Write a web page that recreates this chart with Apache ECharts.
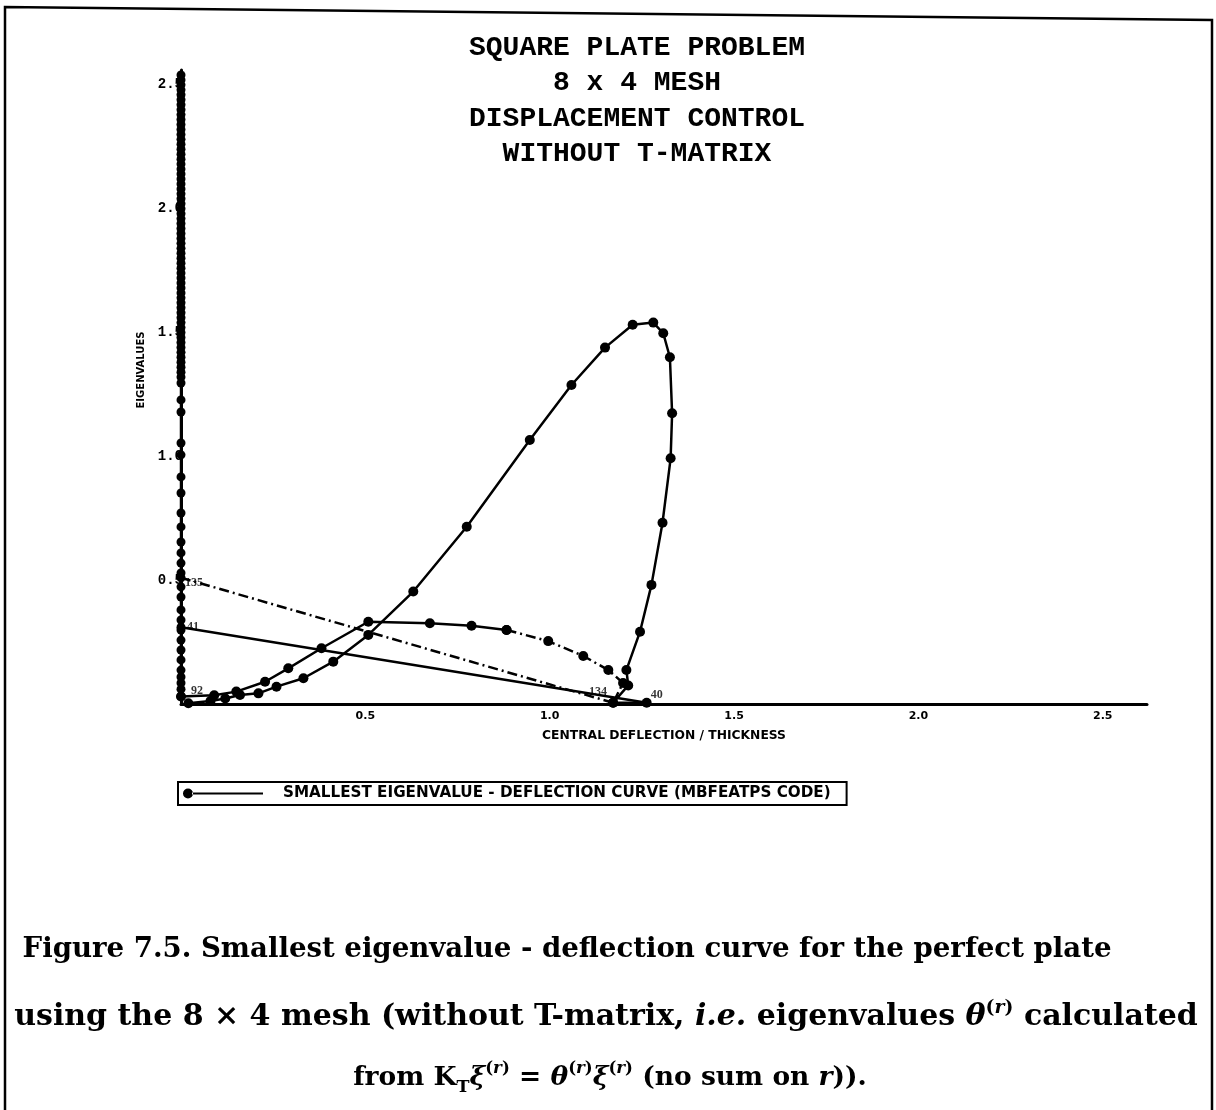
<!DOCTYPE html>
<html><head><meta charset="utf-8">
<script src="https://cdn.jsdelivr.net/npm/echarts@6/dist/echarts.min.js"></script>
<style>html,body{margin:0;padding:0;background:#fff;} #chart{width:1216px;height:1110px;}</style>
</head><body><div id="chart"></div>
<script>
// ---------- texts ----------
const titleLines = ['SQUARE PLATE PROBLEM', '8 x 4 MESH', 'DISPLACEMENT CONTROL', 'WITHOUT T-MATRIX'];
const xAxisName = 'CENTRAL DEFLECTION / THICKNESS';
const yAxisName = 'EIGENVALUES';
const curveName = 'SMALLEST EIGENVALUE - DEFLECTION CURVE (MBFEATPS CODE)';
const xTickStep = 0.5;
const yTickStep = 0.5;

// ---------- data (central deflection / thickness, eigenvalue) ----------
// points 1..40 : the large loop
const loopX = [0.02, 0.08, 0.12, 0.16, 0.21, 0.259, 0.332, 0.413, 0.508, 0.630, 0.775, 0.946, 1.059, 1.150, 1.225, 1.281, 1.308, 1.326, 1.332, 1.328, 1.306, 1.276, 1.245, 1.208, 1.213, 1.172, 1.263];
const loopY = [0.003, 0.012, 0.022, 0.036, 0.043, 0.070, 0.104, 0.171, 0.279, 0.454, 0.716, 1.066, 1.288, 1.439, 1.531, 1.540, 1.497, 1.400, 1.174, 0.992, 0.732, 0.481, 0.292, 0.137, 0.075, 0.005, 0.005];
// jump from point 40 to point 41
const jumpAX = [1.263, 0.0];
const jumpAY = [0.005, 0.31];
// points at zero deflection (41..91 and 135..)
const axisPointsY = [0.03, 0.06, 0.085, 0.109, 0.137, 0.178, 0.218, 0.258, 0.299, 0.31, 0.339, 0.380, 0.432, 0.473, 0.51, 0.529, 0.569, 0.610, 0.654, 0.715, 0.771, 0.852, 0.917, 1.006, 1.054, 1.179, 1.228, 1.296,
  1.32, 1.34, 1.36, 1.38, 1.40, 1.42, 1.44, 1.46, 1.48, 1.50, 1.52, 1.54, 1.56, 1.58, 1.60, 1.62, 1.64, 1.66, 1.68, 1.70, 1.72, 1.74, 1.76, 1.78, 1.80, 1.82, 1.84, 1.86, 1.88, 1.90, 1.92, 1.94, 1.96, 1.98,
  2.00, 2.02, 2.04, 2.06, 2.08, 2.10, 2.12, 2.14, 2.16, 2.18, 2.20, 2.22, 2.24, 2.26, 2.28, 2.30, 2.32, 2.34, 2.36, 2.38, 2.40, 2.42, 2.44, 2.46, 2.48, 2.50, 2.52, 2.54];
// points 92..134 : the low dome
const domeX = [0.0, 0.09, 0.15, 0.228, 0.291, 0.381, 0.508, 0.675, 0.788, 0.883];
const domeY = [0.03, 0.035, 0.05, 0.090, 0.144, 0.225, 0.332, 0.326, 0.316, 0.299];
const domeTailX = [0.883, 0.996, 1.091, 1.159, 1.199, 1.172];
const domeTailY = [0.299, 0.254, 0.194, 0.137, 0.085, 0.005];
// jump from point 134 to point 135
const jumpBX = [1.172, 0.0];
const jumpBY = [0.005, 0.51];
// numbered points
const pointNumbers = ['40', '41', '92', '134', '135'];
const pointNumberX = [1.263, 0.0, 0.0, 1.172, 0.0];
const pointNumberY = [0.005, 0.31, 0.03, 0.005, 0.51];

// ---------- helpers ----------
const zip = (xs, ys) => xs.map((x, i) => [x, ys[i]]);
const onStep = (v, s) => v > 0 && Math.abs(v / s - Math.round(v / s)) < 1e-6;
const labelPlacement = {
  '40': {position: 'right', offset: [0, -8]},
  '41': {position: 'right', offset: [2, 0]},
  '92': {position: 'right', offset: [6, -6]},
  '134': {position: 'left', offset: [-2, -11]},
  '135': {position: 'right', offset: [0, 5]}
};

const chart = echarts.init(document.getElementById('chart'), null, {renderer: 'canvas'});
const black = '#000';
const dashDot = [10, 4, 2, 4];
const markerLine = (name, data, type, showSymbol, size) => ({
  type: 'line', name: name, data: data, showSymbol: showSymbol, symbol: 'circle', symbolSize: size || 10,
  color: black, itemStyle: {color: black}, lineStyle: {color: black, width: 2.5, type: type},
  animation: false, z: 3
});
const capFont = 'DejaVu Serif';
const capRich = (fs) => ({
  b: {fontSize: fs, fontWeight: 'bold', fontFamily: capFont, lineHeight: 36, fill: black},
  i: {fontSize: fs, fontWeight: 'bold', fontStyle: 'italic', fontFamily: capFont, lineHeight: 36, fill: black},
  sup: {fontSize: fs * 0.63, fontWeight: 'bold', fontFamily: capFont, lineHeight: 20, verticalAlign: 'top', fill: black},
  supi: {fontSize: fs * 0.63, fontWeight: 'bold', fontStyle: 'italic', fontFamily: capFont, lineHeight: 20, verticalAlign: 'top', fill: black},
  sub: {fontSize: fs * 0.66, fontWeight: 'bold', fontFamily: capFont, lineHeight: 20, verticalAlign: 'bottom', fill: black}
});

const option = {
  backgroundColor: '#fff',
  animation: false,
  grid: {left: 181, top: 70, right: 69, bottom: 406, containLabel: false},
  xAxis: {
    type: 'value', min: 0, max: 2.62, interval: xTickStep,
    name: xAxisName, nameLocation: 'middle', nameGap: 26,
    nameTextStyle: {fontSize: 12.3, fontWeight: 'bold', fontFamily: 'DejaVu Sans', color: black},
    axisLine: {show: true, lineStyle: {color: black, width: 3}},
    axisTick: {show: false}, splitLine: {show: false},
    axisLabel: {margin: 7, fontSize: 11, fontWeight: 'bold', fontFamily: 'DejaVu Sans', color: black,
      formatter: v => onStep(v, xTickStep) ? v.toFixed(1) : ''}
  },
  yAxis: {
    type: 'value', min: 0, max: 2.56, interval: yTickStep,
    name: yAxisName, nameLocation: 'middle', nameGap: 31, nameRotate: 90,
    nameTextStyle: {fontSize: 10, fontWeight: 'bold', fontFamily: 'DejaVu Sans', color: black, padding: [0, 0, 0, 34]},
    axisLine: {show: true, lineStyle: {color: black, width: 3}},
    axisTick: {show: false}, splitLine: {show: false},
    axisLabel: {margin: -2, fontSize: 14, fontWeight: 'bold', fontFamily: 'Liberation Mono', color: black,
      formatter: v => onStep(v, yTickStep) ? v.toFixed(1) : ''}
  },
  legend: {
    data: [curveName], left: 178, top: 782, orient: 'horizontal',
    icon: 'path://M0,5a5,5 0 1,0 10,0a5,5 0 1,0 -10,0Z M9,4.1H80V5.9H9Z',
    itemWidth: 80, itemHeight: 10,
    borderColor: black, borderWidth: 2, borderRadius: 0, padding: [4, 16, 4, 5],
    selectedMode: false,
    textStyle: {fontSize: 15.2, fontWeight: 'bold', fontFamily: 'DejaVu Sans', color: black, padding: [0, 0, 0, 15]}
  },
  series: [
    markerLine(curveName, zip(loopX, loopY), 'solid', true),
    markerLine(curveName, zip(jumpAX, jumpAY), 'solid', false),
    markerLine(curveName, axisPointsY.map(y => [0, y]), 'solid', true, 9),
    markerLine(curveName, zip(domeX, domeY), 'solid', true),
    markerLine(curveName, zip(domeTailX, domeTailY), dashDot, true),
    markerLine(curveName, zip(jumpBX, jumpBY), dashDot, false),
    {
      type: 'scatter', name: 'point numbers', symbolSize: 0, z: 4, animation: false,
      data: pointNumbers.map((t, i) => ({
        value: [pointNumberX[i], pointNumberY[i]],
        label: Object.assign({show: true, formatter: t, fontSize: 12, fontWeight: 'bold',
          fontFamily: 'Liberation Serif', color: black, distance: 4}, labelPlacement[t])
      }))
    }
  ],
  graphic: [
    {type: 'polyline', z: 10, shape: {points: [[5, 1110], [5, 7], [1212, 20], [1212, 1110]]},
      style: {stroke: black, lineWidth: 2.5, fill: null}},
    {type: 'text', x: 637, y: 30, z: 10,
      style: {text: titleLines.join('\n'), textAlign: 'center', fontSize: 28, lineHeight: 35.5,
        fontFamily: 'Liberation Mono', fontWeight: 'bold', fill: black}},
    {type: 'text', x: 567, y: 950, z: 10,
      style: {text: '{b|Figure 7.5. Smallest eigenvalue - deflection curve for the perfect plate}',
        textAlign: 'center', textVerticalAlign: 'middle', rich: capRich(27.6)}},
    {type: 'text', x: 606, y: 1017, z: 10,
      style: {text: '{b|using the 8 × 4 mesh (without T-matrix, }{i|i.e.}{b| eigenvalues }{i|θ}{sup|(}{supi|r}{sup|)}{b| calculated}',
        textAlign: 'center', textVerticalAlign: 'middle', rich: capRich(30)}},
    {type: 'text', x: 610, y: 1078, z: 10,
      style: {text: '{b|from K}{sub|T}{i|ξ}{sup|(}{supi|r}{sup|)}{b| = }{i|θ}{sup|(}{supi|r}{sup|)}{i|ξ}{sup|(}{supi|r}{sup|)}{b| (no sum on }{i|r}{b|)).}',
        textAlign: 'center', textVerticalAlign: 'middle', rich: capRich(26.5)}}
  ]
};
chart.setOption(option);
</script></body></html>
